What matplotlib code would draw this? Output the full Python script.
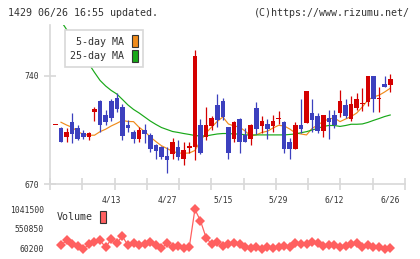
import numpy as np
import matplotlib
matplotlib.use('Agg')
import matplotlib.pyplot as plt
from matplotlib.patches import Patch

plt.rcParams['font.family'] = 'DejaVu Sans Mono'

# 日足データ (index -1 .. 59)
opens = [708, 706.3, 700.7, 710.2, 706.3, 703.1, 700.7, 716.8, 723.8, 714.9, 723.8,
         726, 719.7, 708.2, 703.5, 699.2, 705, 701.8, 695.3, 694.2, 688.3,
         689.4, 694.2, 686.2, 693.6, 693.8, 708.2, 700.7, 707.8, 721.2, 723.8,
         706.7, 699, 712.1, 701.8, 699.2, 719, 707.8, 708.7, 707.8, 712.3,
         710.2, 697.2, 692.9, 708.2, 709.7, 716, 714.1, 704.5, 712.6, 714.7,
         715.8, 721.2, 712.3, 719.4, 721.6, 723.3, 740, 725.1, 734.8, 734.4]
highs = [708, 707, 706.3, 716, 708.2, 705, 703.9, 720.1, 724.5, 718, 725.1,
         729.2, 721.7, 711.3, 705, 706.7, 708.7, 702.9, 695.8, 694.8, 694.2,
         699.6, 698.5, 697.4, 697.4, 756.8, 712.1, 720.1, 714, 728.3, 726,
         707, 710.5, 712.5, 706, 708.7, 723.4, 714.1, 711.9, 714.7, 717.3,
         710.5, 699.8, 710.4, 725.1, 730.3, 725.1, 716, 714.7, 718, 718,
         730.9, 725.1, 727, 729, 732.2, 740, 740, 732.6, 740, 741.3]
lows = [708, 697.4, 697.4, 696.8, 698.5, 699.2, 698.5, 711, 703.5, 708.2, 710.8,
        716.9, 698.5, 703.5, 696.8, 697.5, 696.8, 690.5, 686.2, 686, 677.3,
        686.2, 685.6, 682.3, 689.9, 685.6, 689.4, 698.5, 705, 707.1, 711.5,
        686, 697, 689.9, 697.4, 695.3, 702.4, 702.9, 699.2, 703.9, 708.9,
        690.3, 686.4, 692.9, 702.9, 709.7, 703.5, 702.9, 700.5, 699.2, 706.5,
        713.6, 712.6, 711, 718, 717.5, 720.7, 716.9, 716.9, 732.7, 729.8]
closes = [708, 697.4, 703.7, 702.6, 699.4, 700.7, 703.3, 718.5, 708.2, 710.4, 712.5,
          718.8, 701.3, 706.5, 699.2, 705, 702.4, 692.7, 691.6, 687.7, 685.6,
          697, 687.7, 692, 694.2, 753.2, 690.3, 708.2, 712.8, 711.5, 713.6,
          690.3, 710, 697.4, 697.4, 708.2, 705.6, 710.8, 705.6, 710.8, 712.8,
          692.9, 692.9, 708.2, 705.6, 730.3, 711.5, 704.5, 714.7, 710.4, 708.2,
          723.8, 714.1, 722, 725.1, 722, 740, 724.9, 725.5, 732.7, 738]

# 移動平均 (index 0 .. 59)
ma5 = [710.0, 708.2, 706.7, 703.9, 702.2, 701.6, 701.6, 703.9, 705.5, 707.6,
       709.3, 711.2, 710.5, 710.4, 706.7, 704.0, 700.5, 697.5, 694.8, 693.0,
       691.1, 690.1, 689.9, 690.1, 691.7, 697.9, 703.1, 706.9, 710.5, 713.4,
       708.9, 707.6, 706.9, 704.3, 701.1, 701.8, 703.4, 704.2, 706.3, 708.0,
       707.6, 705.6, 703.1, 702.4, 701.8, 706.0, 708.2, 710.5, 712.1, 712.8,
       710.4, 712.1, 713.7, 716.0, 719.9, 724.4, 726.4, 727.5, 729.6, 732.0]
ma25 = [775.6, 770.1, 764.6, 758.8, 753.3, 747.8, 742.3, 737.1, 733.5, 730.6,
        728.3, 724.8, 721.2, 718.3, 716.0, 713.4, 710.8, 708.6, 706.6, 705.3,
        704.0, 703.4, 702.7, 702.1, 701.4, 701.1, 701.1, 701.8, 702.4, 702.7,
        702.7, 702.4, 702.4, 701.8, 701.8, 701.8, 701.8, 701.8, 701.8, 701.8,
        701.8, 702.1, 702.4, 703.2, 703.9, 705.0, 706.0, 707.3, 707.9, 707.9,
        707.3, 707.9, 708.7, 708.7, 708.9, 709.9, 711.2, 712.4, 713.7, 714.7]

# 出来高 (index 0 .. 59)
volume = [151000, 273600, 175500, 126400, 55000, 175500, 224600, 273600, 102000, 298200,
          207400, 371800, 151000, 207400, 151000, 183000, 224600, 165700, 77400, 200000,
          102000, 126400, 77400, 116600, 1034000, 750000, 340000, 175500, 220000, 141200,
          175500, 200000, 175500, 102000, 77400, 116600, 53000, 102000, 77400, 102000,
          141200, 116600, 200000, 175500, 175500, 239300, 200000, 141200, 158300, 158300,
          116600, 141200, 175500, 200000, 102000, 158300, 116600, 116600, 60200, 92100]

date_pos = [9, 19, 29, 39, 49, 59]
date_labels = ['4/13', '4/27', '5/15', '5/29', '6/12', '6/26']
vol_ticks = [60200, 550850, 1041500]

RED = '#d40000'
BLUE = '#3c40be'
ORANGE = '#f08c1c'
GREEN = '#18a818'
PINK = '#ff6060'
GRID = '#d8d8d8'
TXT = '#333333'

fig = plt.figure(figsize=(4.2, 2.59), dpi=100)
ax = fig.add_axes([50 / 420, 1 - 184 / 259, 355 / 420, 159 / 259])
axv = fig.add_axes([50 / 420, 4 / 259, 355 / 420, 52 / 259])

xmin, xmax = -1.97, 61.65

# ローソク足
cx = np.arange(-1, len(opens) - 1)
o = np.array(opens)
c = np.array(closes)
cols = [RED if cc >= oo else BLUE for oo, cc in zip(o, c)]
ax.vlines(cx, lows, highs, colors=cols, lw=0.9, zorder=3)
body = np.maximum(np.abs(c - o), 0.7)
ax.bar(cx, body, bottom=np.minimum(o, c), width=0.82, color=cols, lw=0, zorder=4)

mx = np.arange(len(ma5))
ax.plot(mx, ma5, color=ORANGE, lw=0.85, zorder=2)
ax.plot(mx, ma25, color=GREEN, lw=0.85, zorder=2)

ax.set_xlim(xmin, xmax)
ax.set_ylim(670, 773)
for s in ['top', 'right']:
    ax.spines[s].set_visible(False)
for s in ['left', 'bottom']:
    ax.spines[s].set_color(GRID)
    ax.spines[s].set_linewidth(1.2)
ax.set_yticks([670, 740])
ax.set_yticklabels(['670', '740'])
ax.set_xticks(np.linspace(xmin, xmax, 12))
ax.set_xticklabels([])
ax.set_xticks(date_pos, minor=True)
ax.set_xticklabels(date_labels, minor=True)
ax.tick_params(axis='both', which='major', direction='inout', length=8, width=1.2,
               color=GRID, labelsize=5.8, labelcolor=TXT, pad=4)
ax.tick_params(axis='x', which='minor', length=0, labelsize=5.8, labelcolor=TXT, pad=8)

leg = ax.legend(handles=[Patch(facecolor=ORANGE, edgecolor='#333333', lw=0.8),
                         Patch(facecolor=GREEN, edgecolor='#333333', lw=0.8)],
                labels=['5-day MA', '25-day MA'], markerfirst=False,
                loc='upper left', bbox_to_anchor=(65 / 420, 1 - 30 / 259),
                bbox_transform=fig.transFigure, fontsize=7.2, handlelength=0.6,
                handleheight=1.4, handletextpad=0.7, labelspacing=0.3,
                borderpad=0.55, borderaxespad=0, fancybox=False, framealpha=1,
                edgecolor=GRID)
leg.get_frame().set_linewidth(1.2)
for t in leg.get_texts():
    t.set_color(TXT)

# 出来高
axv.plot(np.arange(len(volume)), volume, color=PINK, lw=0.9, marker='D',
         markersize=5, markeredgewidth=0)
axv.set_xlim(xmin, xmax)
axv.set_ylim(-87000, 1188700)
for s in axv.spines.values():
    s.set_visible(False)
axv.set_xticks([])
axv.set_yticks(vol_ticks)
axv.set_yticklabels([str(v) for v in vol_ticks])
axv.tick_params(axis='y', length=0, labelsize=5.8, labelcolor=TXT, pad=4.5)

vleg = axv.legend(handles=[Patch(facecolor=PINK, edgecolor='#333333', lw=0.8)],
                  labels=['Volume'], markerfirst=False, loc='upper left',
                  bbox_to_anchor=(57 / 420, 1 - 211 / 259), bbox_transform=fig.transFigure,
                  fontsize=7.2, handlelength=0.6, handleheight=1.5, handletextpad=0.7,
                  borderpad=0, borderaxespad=0, frameon=False)
for t in vleg.get_texts():
    t.set_color(TXT)

fig.text(8 / 420, 1 - 12.5 / 259, '1429 06/26 16:55 updated.', fontsize=7.2,
         color=TXT, va='center', ha='left')
fig.text(410 / 420, 1 - 12.5 / 259, '(C)https://www.rizumu.net/', fontsize=7.2,
         color=TXT, va='center', ha='right')

fig.savefig('out.png', dpi=100)
